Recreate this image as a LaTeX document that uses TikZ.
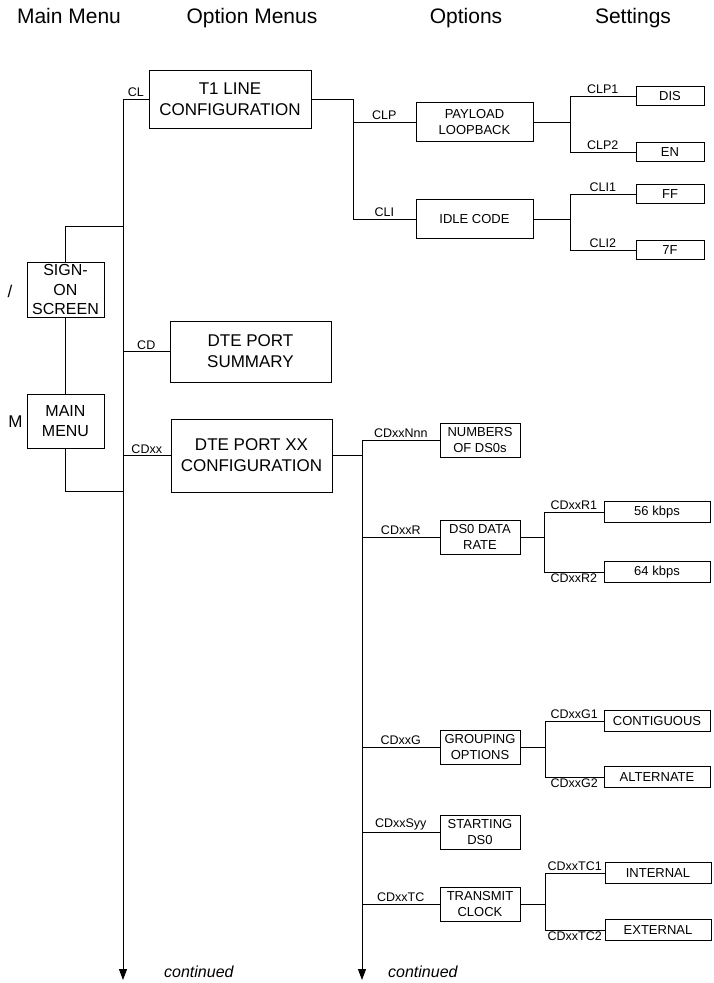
\documentclass[tikz,border=0pt]{standalone}
\usepackage{fontspec}
\setmainfont{Liberation Sans}
\usetikzlibrary{arrows.meta, positioning, calc}
\tikzset{
  box/.style={rectangle, draw, line width=0.9pt, inner sep=1pt, align=center},
  menu/.style={box, font=\fontsize{16}{19.5}\selectfont,
               minimum width=77pt, minimum height=55pt},
  optmenu/.style={box, font=\fontsize{17}{21}\selectfont, minimum width=161pt},
  opt/.style={box, font=\fontsize{13}{16}\selectfont},
  optwide/.style={opt, minimum width=117pt, minimum height=39pt},
  optnarrow/.style={opt, minimum width=80pt, minimum height=34pt},
  setsmall/.style={box, font=\fontsize{13}{16}\selectfont,
                   minimum width=68pt, minimum height=19pt},
  setlarge/.style={box, font=\fontsize{13}{16}\selectfont,
                   minimum width=106pt, minimum height=21pt},
  lbl/.style={font=\fontsize{12.5}{14}\selectfont, inner sep=1.5pt},
  key/.style={font=\fontsize{17}{20}\selectfont, inner sep=0pt},
  hdr/.style={font=\fontsize{21}{25}\selectfont, anchor=base, inner sep=0pt},
  cont/.style={font=\itshape\fontsize{16}{19}\selectfont, anchor=base west, inner sep=0pt},
  wire/.style={line width=0.9pt},
  bus/.style={wire, -{Triangle[length=11pt, width=8pt]}},
}

\begin{document}
\begin{tikzpicture}[x=1pt, y=-1pt]

  \useasboundingbox (0,0) rectangle (714,983);

  % column headings
  \node[hdr] (hMain) at (69,23) {Main Menu};
  \node[hdr] (hOptMenus) at (252,23) {Option Menus};
  \node[hdr] (hOptions) at (466,23) {Options};
  \node[hdr] (hSettings) at (633,23) {Settings};

  % main menu
  \node[menu] (signon) at (65.5,289.5) {SIGN-\\ON\\SCREEN};
  \node[menu, minimum height=54pt] (mainmenu) at (65.5,421) {MAIN\\MENU};
  \node[key] (kSlash) at (10,291) {/};
  \node[key] (kM) at (15.5,421.5) {M};

  % option menus
  \node[optmenu, minimum width=162pt, minimum height=58pt] (t1line) at (230,99)
    {T1 LINE\\CONFIGURATION};
  \node[optmenu, minimum height=61pt] (dtesum) at (250.5,351.5)
    {DTE PORT\\SUMMARY};
  \node[optmenu, minimum height=73pt] (dtecfg) at (251.5,455.5)
    {DTE PORT XX\\CONFIGURATION};

  % options
  \node[optwide] (payload) at (474.5,122) {PAYLOAD\\LOOPBACK};
  \node[optwide] (idle) at (474.5,219) {IDLE CODE};
  \node[optnarrow] (numds0) at (480,440) {NUMBERS\\OF DS0s};
  \node[optnarrow] (rate) at (480,537) {DS0 DATA\\RATE};
  \node[optnarrow] (group) at (480,747) {GROUPING\\OPTIONS};
  \node[optnarrow] (start) at (480,832) {STARTING\\DS0};
  \node[optnarrow] (txclk) at (480,904) {TRANSMIT\\CLOCK};

  % settings
  \node[setsmall] (dis) at (670,96) {DIS};
  \node[setsmall] (en) at (670,152) {EN};
  \node[setsmall] (ff) at (670,194) {FF};
  \node[setsmall] (sevenf) at (670,250) {7F};
  \node[setlarge] (k56) at (657,512) {56 kbps};
  \node[setlarge] (k64) at (657,572) {64 kbps};
  \node[setlarge] (contig) at (657,721) {CONTIGUOUS};
  \node[setlarge] (altern) at (657,777) {ALTERNATE};
  \node[setlarge] (intern) at (658,873) {INTERNAL};
  \node[setlarge] (extern) at (658,930) {EXTERNAL};

  \coordinate (busA) at (123,99);
  \coordinate (busAend) at (123,980);
  \coordinate (busB) at (362,440);
  \coordinate (busBend) at (362,980);
  \coordinate (busC) at (353,99);
  \coordinate (jSign) at (123,226);
  \coordinate (jMain) at (123,491);
  \coordinate (jPay) at (570,122);
  \coordinate (jIdle) at (570,219);
  \coordinate (jRate) at (544,537);
  \coordinate (jGroup) at (545,747);
  \coordinate (jClk) at (545,904);

  % trunks
  \draw[bus] (busA) -- (busAend);
  \draw[bus] (busB) -- (busBend);
  \node[cont] (contA) at (164,977) {continued};
  \node[cont] (contB) at (388,977) {continued};

  \draw[wire] (signon.north) |- (jSign);
  \draw[wire] (signon.south) -- (mainmenu.north);
  \draw[wire] (mainmenu.south) |- (jMain);

  \draw[wire] (busA) -- node[lbl, above] {CL} (t1line.west);
  \draw[wire] (dtesum.west -| busA) -- node[lbl, above] {CD} (dtesum.west);
  \draw[wire] (dtecfg.west -| busA) -- node[lbl, above] {CDxx} (dtecfg.west);
  \draw[wire] (dtecfg.east) -- (dtecfg.east -| busB);

  % T1 line options
  \draw[wire] (t1line.east) -- (busC) -- (busC |- idle.west);
  \draw[wire] (payload.west -| busC) -- node[lbl, above] {CLP} (payload.west);
  \draw[wire] (idle.west -| busC) -- node[lbl, above] {CLI} (idle.west);
  \draw[wire] (payload.east) -- (jPay);
  \draw[wire] (dis.west) -- node[lbl, above] {CLP1} (dis.west -| jPay)
    |- node[lbl, above, pos=0.75] {CLP2} (en.west);
  \draw[wire] (idle.east) -- (jIdle);
  \draw[wire] (ff.west) -- node[lbl, above] {CLI1} (ff.west -| jIdle)
    |- node[lbl, above, pos=0.75] {CLI2} (sevenf.west);

  % DTE port options
  \draw[wire] (busB) -- node[lbl, above] {CDxxNnn} (numds0.west);
  \draw[wire] (rate.west -| busB) -- node[lbl, above] {CDxxR} (rate.west);
  \draw[wire] (group.west -| busB) -- node[lbl, above] {CDxxG} (group.west);
  \draw[wire] (start.west -| busB) -- node[lbl, above] {CDxxSyy} (start.west);
  \draw[wire] (txclk.west -| busB) -- node[lbl, above] {CDxxTC} (txclk.west);

  \draw[wire] (rate.east) -- (jRate);
  \draw[wire] (k56.west) -- node[lbl, above] {CDxxR1} (k56.west -| jRate)
    |- node[lbl, below, pos=0.75] {CDxxR2} (k64.west);
  \draw[wire] (group.east) -- (jGroup);
  \draw[wire] (contig.west) -- node[lbl, above] {CDxxG1} (contig.west -| jGroup)
    |- node[lbl, below, pos=0.75] {CDxxG2} (altern.west);
  \draw[wire] (txclk.east) -- (jClk);
  \draw[wire] (intern.west) -- node[lbl, above] {CDxxTC1} (intern.west -| jClk)
    |- node[lbl, below, pos=0.75] {CDxxTC2} (extern.west);

\end{tikzpicture}
\end{document}
